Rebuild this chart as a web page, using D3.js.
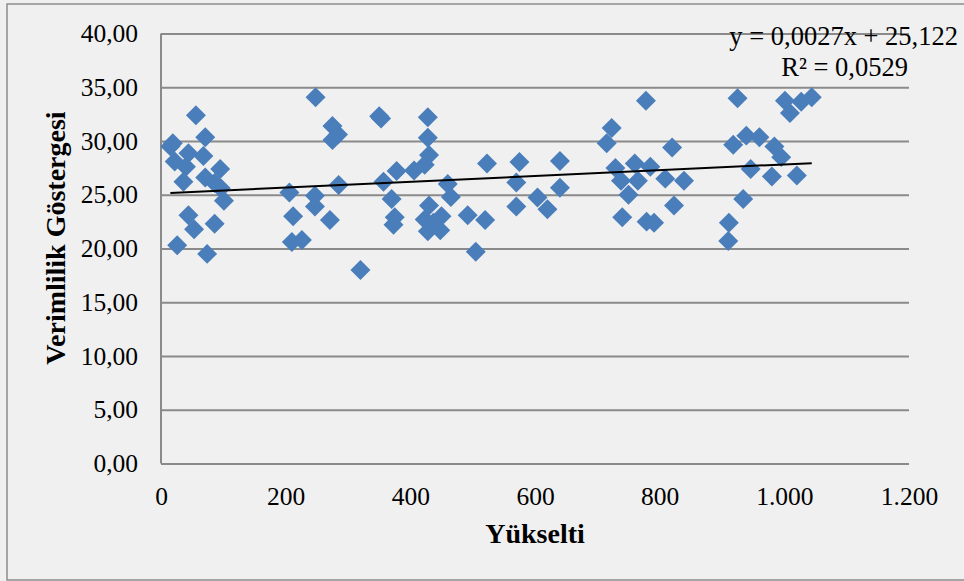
<!DOCTYPE html>
<html>
<head>
<meta charset="utf-8">
<script src="https://cdn.jsdelivr.net/npm/d3@7"></script>
<style>
    body { margin: 0; background: #f0f0f0; }
    text { font-family: "Liberation Serif", "Times New Roman", serif; fill: #000; }
</style>
</head>
<body>
<svg id="chart" width="964" height="581"></svg>
<script>
// Yükselti (elevation) values
const elevation = [
    15, 19, 22, 26, 36, 40, 44, 44, 53, 56, 68, 71, 71, 74, 86, 86, 95, 96, 101,
    206, 212, 210, 226, 248, 247, 247, 271, 275, 284, 275, 285,
    320, 350, 353, 357, 370, 375, 373, 378, 406, 423, 428, 428, 430, 430, 423, 428, 437, 450, 448, 460, 465, 492, 505, 520, 523,
    575, 570, 570, 604, 620, 640, 640,
    715, 723, 778, 729, 738, 750, 760, 765, 785, 740, 779, 791, 809, 820, 823, 839,
    910, 911, 918, 925, 934, 939, 946, 960, 980, 984, 995, 1001, 1009, 1020, 1027, 1044
];
// Verimlilik Göstergesi (productivity index), same order
const productivity = [
    29.5, 29.8, 28.1, 20.3, 26.2, 27.6, 28.85, 23.1, 21.8, 32.4, 28.6, 30.35, 26.6, 19.5, 26.1, 22.3, 27.4, 25.6, 24.45,
    25.2, 23.0, 20.6, 20.8, 34.07, 24.9, 23.9, 22.65, 31.4, 30.6, 30.1, 25.9,
    18.0, 32.3, 32.1, 26.2, 24.6, 22.9, 22.2, 27.2, 27.25, 27.8, 32.2, 30.3, 28.7, 24.0, 22.7, 21.6, 22.4, 23.0, 21.7, 26.0, 24.8, 23.1, 19.7, 22.65, 27.9,
    28.05, 26.15, 23.9, 24.75, 23.65, 28.15, 25.65,
    29.8, 31.2, 33.75, 27.5, 26.3, 25.0, 27.9, 26.3, 27.6, 22.9, 22.5, 22.4, 26.5, 29.4, 24.0, 26.3,
    20.7, 22.4, 29.65, 33.97, 24.6, 30.5, 27.4, 30.35, 26.7, 29.5, 28.5, 33.75, 32.6, 26.8, 33.66, 34.07
];

const xTicks = [0, 200, 400, 600, 800, 1000, 1200];
const yTicks = [0, 5, 10, 15, 20, 25, 30, 35, 40];

// linear trend as printed on the chart
const trendSlope = 0.0027;
const trendIntercept = 25.122;
const trendLabel = "y = 0,0027x + 25,122";
const r2Label = "R² = 0,0529";

const xTitle = "Yükselti";
const yTitle = "Verimlilik Göstergesi";

const points = elevation.map((x, i) => ({x: x, y: productivity[i]}));

const svg = d3.select("#chart");
const margin = {left: 161, right: 55, top: 33.5, bottom: 117.5};
const width = 964 - margin.left - margin.right;
const height = 581 - margin.top - margin.bottom;

const x = d3.scaleLinear().domain([0, 1200]).range([0, width]);
const y = d3.scaleLinear().domain([0, 40]).range([height, 0]);

const trFormat = d3.formatLocale({decimal: ",", thousands: ".", grouping: [3], currency: ["", ""]});
const fmtY = trFormat.format(".2f");
const fmtX = trFormat.format(",d");

const tickFont = 25.5;

// outer frame (runs past the right edge)
svg.append("rect")
    .attr("x", 7).attr("y", 4)
    .attr("width", 980).attr("height", 576)
    .attr("fill", "#f0f0f0")
    .attr("stroke", "#8c8c8c")
    .attr("stroke-width", 1.5);

const g = svg.append("g")
    .attr("transform", `translate(${margin.left},${margin.top})`);

// gridlines + y labels
const yAxis = g.append("g")
    .call(d3.axisLeft(y).tickValues(yTicks).tickSize(-width).tickFormat(fmtY).tickPadding(23));
yAxis.select(".domain").remove();
yAxis.selectAll("line").attr("stroke", "#8a8a8a").attr("stroke-width", 2);
yAxis.selectAll("text").attr("font-size", tickFont).attr("font-family", "Liberation Serif");

// x labels
const xAxis = g.append("g")
    .attr("transform", `translate(0,${height})`)
    .call(d3.axisBottom(x).tickValues(xTicks).tickSize(0).tickFormat(fmtX).tickPadding(23));
xAxis.select(".domain").remove();
xAxis.selectAll("text").attr("font-size", tickFont).attr("font-family", "Liberation Serif");

// vertical axis line
g.append("line")
    .attr("x1", 0).attr("x2", 0)
    .attr("y1", 0).attr("y2", height)
    .attr("stroke", "#8a8a8a")
    .attr("stroke-width", 2);

// markers
const diamond = d3.symbol().type(d3.symbolSquare).size(200);
g.selectAll("path.pt")
    .data(points)
    .join("path")
    .attr("class", "pt")
    .attr("d", diamond)
    .attr("transform", d => `translate(${x(d.x)},${y(d.y)}) rotate(45)`)
    .attr("fill", "#4a7ebb");

// trend line across the data extent
const [xMin, xMax] = d3.extent(elevation);
g.append("line")
    .attr("x1", x(xMin)).attr("y1", y(trendSlope * xMin + trendIntercept))
    .attr("x2", x(xMax)).attr("y2", y(trendSlope * xMax + trendIntercept))
    .attr("stroke", "#000")
    .attr("stroke-width", 2);

// equation
svg.append("text")
    .attr("x", 958).attr("y", 45)
    .attr("text-anchor", "end")
    .attr("font-size", 26.5)
    .text(trendLabel);
svg.append("text")
    .attr("x", 908).attr("y", 76)
    .attr("text-anchor", "end")
    .attr("font-size", 26.5)
    .text(r2Label);

// axis titles
svg.append("text")
    .attr("x", 535).attr("y", 543)
    .attr("text-anchor", "middle")
    .attr("font-size", 28)
    .attr("font-weight", "bold")
    .text(xTitle);
svg.append("text")
    .attr("transform", "translate(65,238) rotate(-90)")
    .attr("text-anchor", "middle")
    .attr("font-size", 28)
    .attr("font-weight", "bold")
    .text(yTitle);
</script>
</body>
</html>
